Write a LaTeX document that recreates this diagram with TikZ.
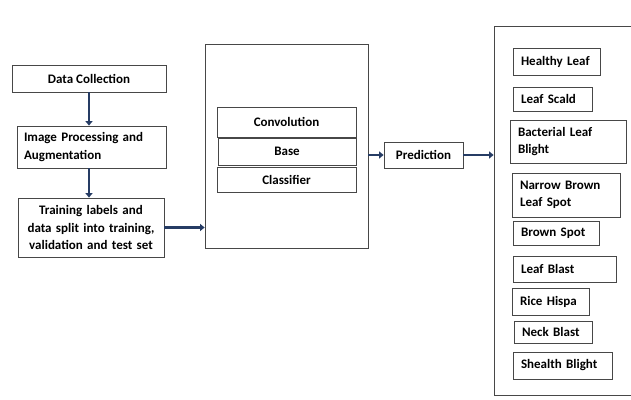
\documentclass[tikz,border=0pt]{standalone}
\usepackage{fontspec}
\setmainfont{Carlito}
\usepackage{tikz}
\usetikzlibrary{
  arrows.meta,
  positioning
}
\definecolor{arrowblue}{RGB}{38,60,100}

\begin{document}
\begin{tikzpicture}[
      x=1pt, y=-1pt,
      stepbox/.style={
         rectangle,
         draw=black!72,
         line width=0.8pt,
         fill=white,
         inner xsep=8pt,
         inner ysep=0pt,
         font=\bfseries\fontsize{13}{17.5}\selectfont,
      },
      leaf/.style={
         stepbox,
         align=left,
         inner xsep=8pt,
      },
      frame/.style={
         rectangle,
         draw=black!72,
         line width=0.8pt,
      },
      tip/.style={-{Triangle[length=4.5pt,width=7pt]},line width=2.8pt,draw=arrowblue},
    ]
  \useasboundingbox (0,0) rectangle (631,399);
  % preparation column
  \node (n11) [stepbox, minimum width=154pt, minimum height=27pt] at (89,78.5) {Data Collection};
  \node (n21) [stepbox, text width=135pt, inner xsep=7pt, align=left, minimum height=42pt] at (91.5,147) {Image Processing and\\Augmentation};
  \node (n31) [stepbox, text width=142pt, inner xsep=2pt, align=center, minimum height=59pt] at (91,227.5) {Training labels and\\data split into training,\\validation and test set};
  % model
  \node (n12) [frame, minimum width=163pt, minimum height=204pt] at (286.5,146) {};
  \node (n12a) [stepbox, minimum width=139pt, minimum height=30pt] at (286.5,122) {Convolution};
  \node (n12b) [stepbox, minimum width=138pt, minimum height=27pt] at (287,151.5) {Base};
  \node (n12c) [stepbox, minimum width=139pt, minimum height=25pt] at (286.5,179.5) {Classifier};
  \node (n13) [stepbox, minimum width=79pt, minimum height=26pt] at (423.5,155) {Prediction};
  % classes (frame runs past the right edge)
  \node (n14) [frame, minimum width=166pt, minimum height=369pt] at (577,210.5) {};
  \node (l1) [leaf, text width=71pt, minimum height=27pt] at (556.5,61.5) {Healthy Leaf};
  \node (l2) [leaf, text width=63pt, minimum height=24pt] at (552.5,99) {Leaf Scald};
  \node (l3) [leaf, text width=100pt, minimum height=43pt] at (568,141.5) {Bacterial Leaf\\Blight};
  \node (l4) [leaf, text width=92pt, minimum height=44pt] at (566,195) {Narrow Brown\\Leaf Spot};
  \node (l5) [leaf, text width=70pt, minimum height=24pt] at (556,233) {Brown Spot};
  \node (l6) [leaf, text width=87pt, minimum height=26pt] at (564.5,269) {Leaf Blast};
  \node (l7) [leaf, text width=61pt, minimum height=27pt] at (550.5,301.5) {Rice Hispa};
  \node (l8) [leaf, text width=62pt, minimum height=22pt] at (553,332) {Neck Blast};
  \node (l9) [leaf, text width=83pt, minimum height=27pt] at (562.5,365.5) {Shealth Blight};
  % arrows
  \draw [tip] (n11.south) -- (n11.south |- n21.north);
  \draw [tip] (n11.south |- n21.south) -- (n11.south |- n31.north);
  \draw [tip] (n31.east) -- (n31.east -| n12.west);
  \draw [tip] (n13.west -| n12.east) -- (n13.west);
  \draw [tip] (n13.east) -- (n13.east -| n14.west);
\end{tikzpicture}
\end{document}
